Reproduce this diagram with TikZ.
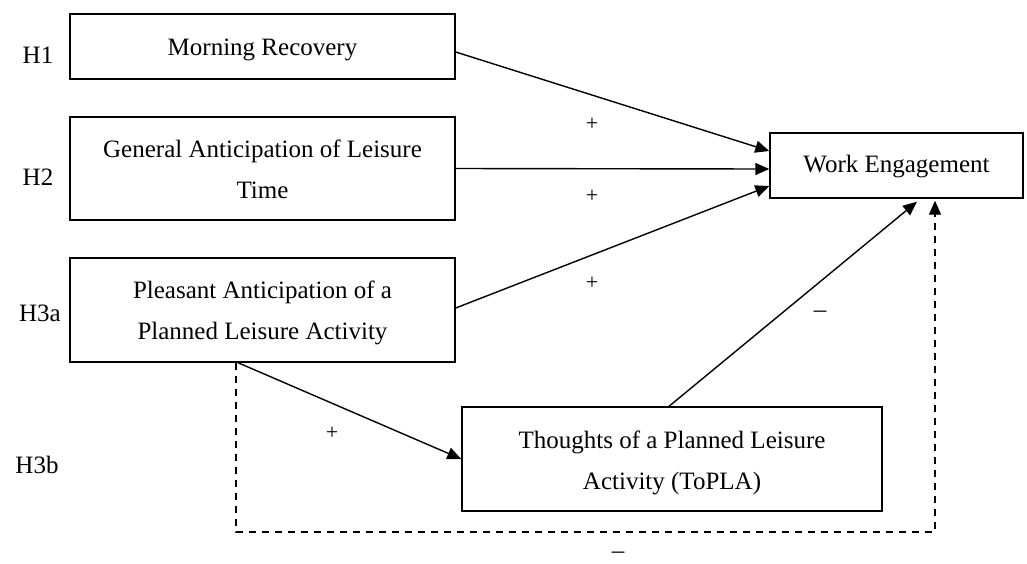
\documentclass[tikz,border=0pt]{standalone}
\usepackage{fontspec}
\setmainfont{Liberation Serif}
\usetikzlibrary{arrows.meta}
\tikzset{
  box/.style={draw, line width=0.7pt, rectangle, inner sep=0pt},
  boxtxt/.style={align=center, inner sep=0pt, font=\fontsize{12.5}{20.5}\selectfont},
  hlab/.style={inner sep=0pt, font=\fontsize{12.5}{14}\selectfont},
  sgn/.style={inner sep=0pt, font=\fontsize{11}{12}\selectfont},
  conn/.style={line width=0.7pt, -{Triangle[length=7pt,width=6pt]}},
  dconn/.style={conn, dash pattern=on 3.5pt off 3pt}
}
\begin{document}
\begin{tikzpicture}[x=0.5pt,y=-0.5pt]
\useasboundingbox (0,0) rectangle (1027,563);
% boxes
\node[box, minimum width=192.5pt, minimum height=32.5pt,
  label={[boxtxt,yshift=-1.75pt]center:Morning Recovery}] (mr) at (262.5,46.5) {};
\node[box, minimum width=192.5pt, minimum height=51.5pt,
  label={[boxtxt,yshift=-0.5pt]center:General Anticipation of Leisure\\Time}] (ga) at (262.5,168.5) {};
\node[box, minimum width=192.5pt, minimum height=52pt,
  label={[boxtxt,yshift=-1.5pt]center:Pleasant Anticipation of a\\Planned Leisure Activity}] (pa) at (262.5,310) {};
\node[box, minimum width=126.5pt, minimum height=32.5pt,
  label={[boxtxt,yshift=-0.5pt]center:Work Engagement}] (we) at (896.5,165.5) {};
\node[box, minimum width=210pt, minimum height=52pt,
  label={[boxtxt,yshift=-1.75pt]center:Thoughts of a Planned Leisure\\Activity (ToPLA)}] (th) at (672,459) {};
% hypothesis labels
\node[hlab] (h1) at (38,55) {H1};
\node[hlab] (h2) at (38,177) {H2};
\node[hlab] (h3a) at (40,313) {H3a};
\node[hlab] (h3b) at (37,465) {H3b};
% connectors
\draw[conn] ([yshift=-2.75pt]mr.east) -- ([yshift=7.25pt]we.west);
\draw[conn] (ga.east) -- ([yshift=-1.75pt]we.west);
\draw[conn] ([yshift=1pt]pa.east) -- ([yshift=-10.25pt]we.west);
\draw[conn] ([xshift=-1.5pt]th.north) -- ([xshift=10.25pt,yshift=-1.5pt]we.south);
\draw[conn] ([xshift=-12.25pt]pa.south) -- (th.west);
\coordinate (dl) at (236,532);
\coordinate (dr) at (935,532);
\draw[dconn] ([xshift=-13.25pt]pa.south) -- (dl) -- (dr) -- ([xshift=19.25pt,yshift=-1pt]we.south);
% signs
\node[sgn] (s1) at (592,124) {+};
\node[sgn] (s2) at (592,196) {+};
\node[sgn] (s3) at (592,283) {+};
\node[sgn] (s4) at (332,433) {+};
\node[hlab] (m1) at (820,314) {–};
\node[hlab] (m2) at (618,555) {–};
\end{tikzpicture}
\end{document}
